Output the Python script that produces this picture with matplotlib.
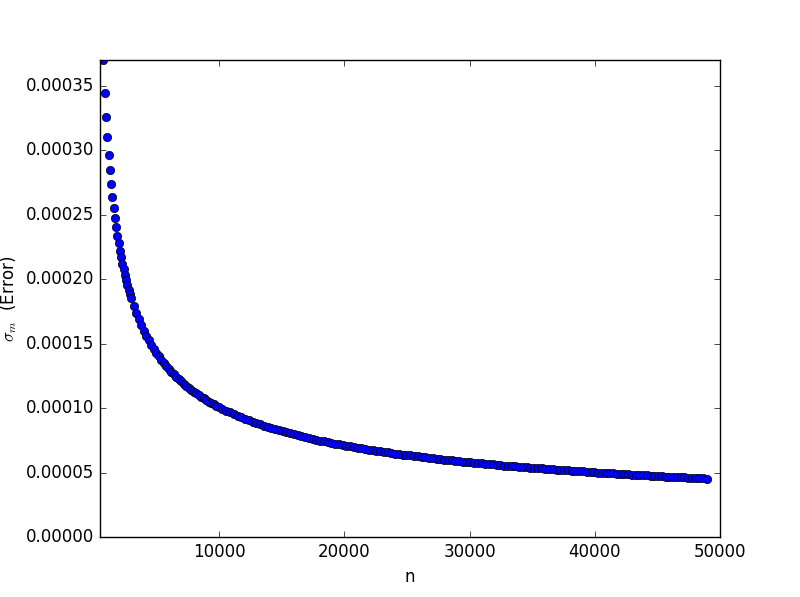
import numpy as np
import matplotlib
matplotlib.use('Agg')
import matplotlib.pyplot as plt

plt.style.use('classic')

# numero de muestras
n = [740, 855, 955, 1055, 1155, 1255, 1355, 1455, 1555, 1655, 1755, 1855, 1955,
     2055, 2155, 2255, 2355, 2455, 2555, 2655, 2755, 2855, 2955,
     3155, 3355, 3555, 3755, 3955, 4155, 4355, 4555, 4755, 4955, 5155, 5355,
     5555, 5755, 5955, 6155, 6355, 6555, 6755, 6955, 7155, 7355, 7555, 7755,
     7955, 8155, 8355, 8555, 8755, 8955, 9155, 9355, 9555, 9755, 9955,
     10255, 10555, 10855, 11155, 11455, 11755, 12055, 12355, 12655, 12955,
     13255, 13555, 13855, 14155, 14455, 14755, 15055, 15355, 15655, 15955,
     16255, 16555, 16855, 17155, 17455, 17755, 18055, 18355, 18655, 18955,
     19255, 19555, 19855, 20155, 20455, 20755, 21055, 21355, 21655, 21955,
     22255, 22555, 22855, 23155, 23455, 23755, 24055, 24355, 24655, 24955,
     25255, 25555, 25855, 26155, 26455, 26755, 27055, 27355, 27655, 27955,
     28255, 28555, 28855, 29155, 29455, 29755, 30055, 30355, 30655, 30955,
     31255, 31555, 31855, 32155, 32455, 32755, 33055, 33355, 33655, 33955,
     34255, 34555, 34855, 35155, 35455, 35755, 36055, 36355, 36655, 36955,
     37255, 37555, 37855, 38155, 38455, 38755, 39055, 39355, 39655, 39955,
     40255, 40555, 40855, 41155, 41455, 41755, 42055, 42355, 42655, 42955,
     43255, 43555, 43855, 44155, 44455, 44755, 45055, 45355, 45655, 45955,
     46255, 46555, 46855, 47155, 47455, 47755, 48055, 48355, 48655, 48955]

# error en unidades de 1e-7
error = [3700, 3444, 3259, 3100, 2963, 2843, 2736, 2640, 2554, 2475, 2404, 2338, 2278,
         2221, 2169, 2121, 2075, 2032, 1992, 1954, 1919, 1885, 1853,
         1793, 1739, 1689, 1643, 1601, 1562, 1526, 1492, 1460, 1431, 1403, 1376,
         1351, 1327, 1305, 1284, 1263, 1244, 1225, 1208, 1191, 1174, 1159, 1144,
         1129, 1115, 1102, 1089, 1076, 1064, 1052, 1041, 1030, 1020, 1009,
         994, 980, 967, 953, 941, 929, 917, 906, 895, 885,
         875, 865, 856, 846, 838, 829, 821, 813, 805, 797,
         790, 783, 776, 769, 762, 756, 749, 743, 737, 731,
         726, 720, 715, 709, 704, 699, 694, 689, 684, 680,
         675, 671, 666, 662, 658, 653, 649, 645, 641, 638,
         634, 630, 626, 623, 619, 616, 612, 609, 606, 602,
         599, 596, 593, 590, 587, 584, 581, 578, 575, 572,
         570, 567, 564, 562, 559, 556, 554, 551, 549, 547,
         544, 542, 539, 537, 535, 533, 530, 528, 526, 524,
         522, 520, 518, 516, 514, 512, 510, 508, 506, 504,
         502, 500, 498, 496, 495, 493, 491, 489, 488, 486,
         484, 483, 481, 479, 478, 476, 474, 473, 471, 470,
         468, 467, 465, 464, 462, 461, 459, 458, 457, 455]

sigma = np.array(error) * 1e-7

fig, ax = plt.subplots(figsize=(8, 5.97), dpi=100)
ax.plot(n, sigma, 'bo', markeredgecolor='k', markersize=6, markeredgewidth=0.5)

ax.set_xlim(470, 50000)
ax.set_ylim(0, 0.00037)
ax.set_xlabel('n')
ax.set_ylabel(r'$\sigma_m$  (Error)')

fig.savefig('out.png', dpi=100)
